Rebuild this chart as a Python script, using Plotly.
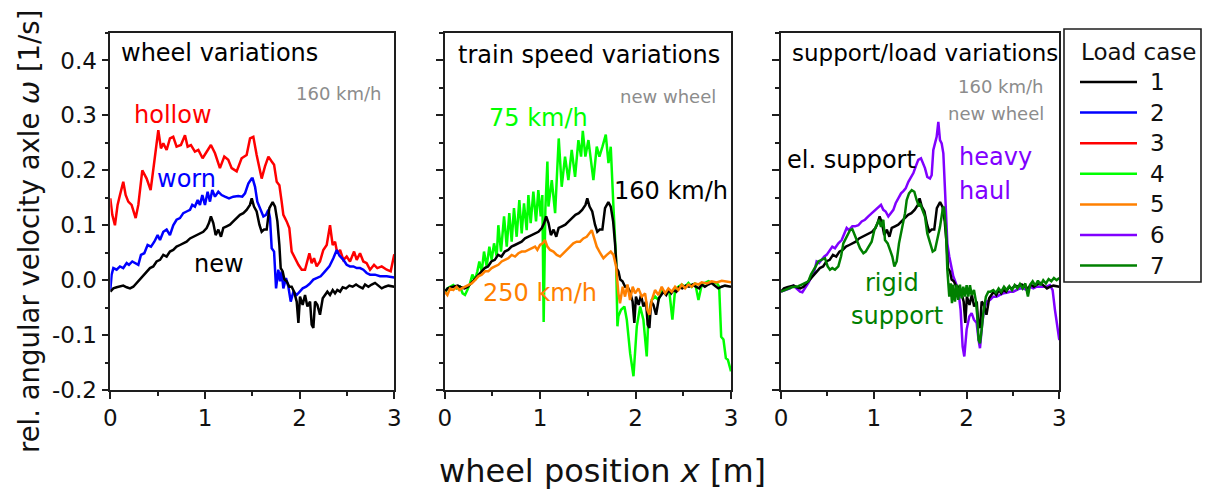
import plotly.graph_objects as go

# ---------------- data: relative angular velocity of the axle [1/s] vs wheel position x [m]
# load case 1: new wheel, 160 km/h, elastic support
case1_x = [0.0, 0.032, 0.067, 0.102, 0.137, 0.173, 0.208, 0.243, 0.278, 0.313, 0.349, 0.384, 0.419, 0.454,
           0.489, 0.525, 0.56, 0.595, 0.63, 0.665, 0.70, 0.736, 0.771, 0.806, 0.842, 0.877, 0.912, 0.947,
           0.982, 1.018, 1.042, 1.063, 1.088, 1.113, 1.141, 1.169, 1.194, 1.229, 1.264, 1.299, 1.335, 1.37,
           1.405, 1.44, 1.475, 1.494, 1.518, 1.546, 1.575, 1.599, 1.624, 1.652, 1.68, 1.715, 1.74, 1.765,
           1.786, 1.80, 1.821, 1.839, 1.863, 1.891, 1.916, 1.941, 1.969, 1.987, 2.004, 2.032, 2.057, 2.082,
           2.11, 2.127, 2.145, 2.163, 2.187, 2.215, 2.244, 2.268, 2.293, 2.321, 2.349, 2.374, 2.398, 2.427,
           2.455, 2.49, 2.525, 2.56, 2.596, 2.631, 2.666, 2.691, 2.726, 2.761, 2.796, 2.832, 2.867, 2.902,
           2.937, 3.0]
case1_y = [-0.021, -0.015, -0.013, -0.012, -0.010, -0.013, -0.015, -0.012, -0.005, 0.001, 0.010, 0.016, 0.022,
           0.025, 0.034, 0.037, 0.046, 0.043, 0.052, 0.055, 0.061, 0.064, 0.067, 0.070, 0.076, 0.079, 0.082,
           0.085, 0.088, 0.095, 0.104, 0.116, 0.104, 0.082, 0.092, 0.079, 0.095, 0.098, 0.101, 0.107, 0.113,
           0.119, 0.122, 0.128, 0.137, 0.149, 0.134, 0.125, 0.101, 0.088, 0.092, 0.092, 0.131, 0.142, 0.134,
           0.107, 0.064, 0.022, 0.016, 0.001, -0.002, -0.012, -0.012, -0.021, -0.039, -0.078, -0.030, -0.045,
           -0.027, -0.048, -0.039, -0.081, -0.087, -0.039, -0.045, -0.063, -0.033, -0.027, -0.021, -0.027,
           -0.018, -0.024, -0.018, -0.021, -0.013, -0.015, -0.010, -0.012, -0.008, -0.012, -0.015, -0.008,
           -0.012, -0.008, -0.005, -0.010, -0.015, -0.012, -0.010, -0.012]

# load case 2: worn wheel
case2_x = [0.0, 0.014, 0.032, 0.067, 0.102, 0.137, 0.173, 0.197, 0.232, 0.268, 0.296, 0.324, 0.359, 0.394,
           0.43, 0.465, 0.50, 0.525, 0.56, 0.595, 0.63, 0.665, 0.70, 0.736, 0.771, 0.806, 0.842, 0.866, 0.894,
           0.923, 0.947, 0.972, 1.0, 1.028, 1.053, 1.077, 1.106, 1.141, 1.176, 1.211, 1.254, 1.299, 1.352,
           1.394, 1.423, 1.458, 1.493, 1.504, 1.529, 1.553, 1.582, 1.617, 1.645, 1.67, 1.687, 1.705, 1.73,
           1.751, 1.775, 1.793, 1.81, 1.828, 1.856, 1.881, 1.906, 1.934, 1.969, 1.997, 2.032, 2.068, 2.103,
           2.145, 2.18, 2.222, 2.268, 2.314, 2.356, 2.392, 2.42, 2.462, 2.497, 2.532, 2.568, 2.603, 2.638,
           2.673, 2.708, 2.744, 2.796, 2.849, 2.92, 3.0]
case2_y = [-0.018, 0.010, 0.022, 0.019, 0.025, 0.022, 0.031, 0.028, 0.034, 0.031, 0.028, 0.046, 0.049, 0.064,
           0.061, 0.070, 0.082, 0.073, 0.088, 0.092, 0.082, 0.100, 0.110, 0.113, 0.122, 0.125, 0.128, 0.137,
           0.134, 0.146, 0.137, 0.155, 0.137, 0.161, 0.143, 0.164, 0.152, 0.161, 0.155, 0.152, 0.149, 0.152,
           0.153, 0.152, 0.158, 0.176, 0.185, 0.185, 0.170, 0.143, 0.131, 0.116, 0.119, 0.128, 0.113, 0.058,
           0.052, -0.015, 0.019, -0.002, 0.016, -0.015, 0.004, -0.012, -0.039, -0.021, -0.027, -0.021, -0.015,
           -0.012, -0.007, 0.001, 0.004, 0.007, 0.016, 0.025, 0.040, 0.055, 0.045, 0.037, 0.028, 0.025, 0.025,
           0.022, 0.022, 0.019, 0.013, 0.010, 0.010, 0.007, 0.007, 0.005]

# load case 3: hollow wheel
case3_x = [0.0, 0.021, 0.049, 0.077, 0.102, 0.137, 0.162, 0.19, 0.225, 0.268, 0.296, 0.338, 0.384, 0.426,
           0.465, 0.507, 0.535, 0.56, 0.595, 0.63, 0.665, 0.70, 0.746, 0.789, 0.817, 0.852, 0.894, 0.93,
           0.975, 1.018, 1.063, 1.106, 1.158, 1.204, 1.246, 1.282, 1.335, 1.387, 1.44, 1.476, 1.511, 1.546,
           1.599, 1.634, 1.67, 1.705, 1.73, 1.758, 1.786, 1.81, 1.828, 1.863, 1.891, 1.916, 1.951, 1.987,
           2.022, 2.057, 2.103, 2.127, 2.152, 2.18, 2.215, 2.25, 2.286, 2.321, 2.349, 2.374, 2.398, 2.427,
           2.462, 2.497, 2.532, 2.575, 2.603, 2.638, 2.673, 2.708, 2.744, 2.786, 2.821, 2.867, 2.92, 2.962, 3.0]
case3_y = [0.149, 0.119, 0.100, 0.137, 0.155, 0.179, 0.155, 0.143, 0.137, 0.113, 0.137, 0.200, 0.185, 0.164,
           0.216, 0.273, 0.240, 0.249, 0.237, 0.258, 0.261, 0.243, 0.246, 0.264, 0.243, 0.246, 0.234, 0.237,
           0.222, 0.234, 0.246, 0.231, 0.204, 0.225, 0.219, 0.204, 0.198, 0.222, 0.228, 0.258, 0.261, 0.228,
           0.185, 0.207, 0.225, 0.216, 0.210, 0.179, 0.173, 0.143, 0.119, 0.107, 0.095, 0.052, 0.040, 0.028,
           0.019, 0.019, 0.049, 0.031, 0.040, 0.025, 0.034, 0.055, 0.064, 0.100, 0.064, 0.070, 0.049, 0.055,
           0.037, 0.043, 0.034, 0.052, 0.037, 0.049, 0.034, 0.031, 0.019, 0.028, 0.022, 0.025, 0.019, 0.016,
           0.047]

# load case 4: 75 km/h
case4_x = [0.0, 0.028, 0.056, 0.09, 0.125, 0.16, 0.188, 0.213, 0.237, 0.265, 0.29, 0.318, 0.342, 0.363, 0.388,
           0.412, 0.44, 0.468, 0.492, 0.517, 0.545, 0.562, 0.59, 0.622, 0.65, 0.677, 0.702, 0.726, 0.754,
           0.782, 0.807, 0.831, 0.859, 0.877, 0.901, 0.929, 0.957, 0.981, 1.006, 1.023, 1.037, 1.055, 1.076,
           1.087, 1.122, 1.157, 1.195, 1.226, 1.261, 1.296, 1.331, 1.366, 1.401, 1.429, 1.447, 1.474, 1.506,
           1.53, 1.558, 1.593, 1.621, 1.653, 1.688, 1.716, 1.74, 1.768, 1.796, 1.81, 1.82, 1.848, 1.883,
           1.908, 1.943, 1.978, 2.013, 2.048, 2.082, 2.117, 2.135, 2.17, 2.205, 2.24, 2.282, 2.317, 2.352,
           2.386, 2.414, 2.449, 2.484, 2.519, 2.554, 2.589, 2.624, 2.659, 2.694, 2.729, 2.764, 2.799, 2.851,
           2.876, 2.897, 2.921, 2.946, 2.967, 2.991, 3.0]
case4_y = [-0.024, -0.015, -0.012, -0.009, -0.015, -0.012, -0.024, -0.027, -0.018, -0.006, 0.010, 0.000, 0.016,
           0.034, 0.016, 0.052, 0.025, 0.061, 0.037, 0.067, 0.043, 0.100, 0.052, 0.116, 0.061, 0.122, 0.070,
           0.131, 0.079, 0.146, 0.085, 0.140, 0.091, 0.155, 0.104, 0.161, 0.107, 0.164, 0.116, 0.155, -0.076,
           0.130, 0.216, 0.134, 0.182, 0.122, 0.258, 0.170, 0.225, 0.182, 0.237, 0.188, 0.255, 0.225, 0.272,
           0.225, 0.255, 0.219, 0.182, 0.243, 0.225, 0.243, 0.265, 0.213, 0.243, 0.134, 0.037, -0.084, -0.066,
           -0.054, -0.048, -0.072, -0.133, -0.175, -0.084, -0.048, -0.072, -0.139, -0.066, -0.036, -0.030,
           -0.036, -0.018, -0.024, -0.018, -0.072, -0.018, -0.012, -0.008, -0.012, -0.005, -0.012, -0.005,
           -0.036, -0.008, -0.005, -0.002, -0.005, -0.005, -0.012, -0.103, -0.108, -0.142, -0.145, -0.163,
           -0.166]

# load case 5: 250 km/h
case5_x = [0.0, 0.028, 0.056, 0.09, 0.125, 0.153, 0.178, 0.213, 0.248, 0.283, 0.318, 0.353, 0.388, 0.423,
           0.457, 0.492, 0.527, 0.562, 0.597, 0.632, 0.667, 0.702, 0.737, 0.772, 0.807, 0.842, 0.877, 0.912,
           0.947, 0.971, 0.999, 1.027, 1.051, 1.076, 1.104, 1.139, 1.174, 1.209, 1.244, 1.278, 1.313, 1.348,
           1.383, 1.418, 1.453, 1.488, 1.541, 1.565, 1.593, 1.63, 1.663, 1.699, 1.74, 1.768, 1.796, 1.82,
           1.837, 1.865, 1.89, 1.915, 1.942, 1.97, 1.995, 2.03, 2.065, 2.1, 2.124, 2.145, 2.17, 2.204, 2.24,
           2.274, 2.31, 2.344, 2.379, 2.414, 2.449, 2.484, 2.519, 2.554, 2.589, 2.623, 2.658, 2.693, 2.746,
           2.798, 2.85, 2.903, 2.956, 3.0]
case5_y = [-0.021, -0.027, -0.015, -0.018, -0.012, -0.018, -0.015, -0.012, -0.009, -0.006, 0.000, 0.007, 0.010,
           0.016, 0.016, 0.022, 0.025, 0.028, 0.034, 0.037, 0.040, 0.046, 0.043, 0.049, 0.052, 0.052, 0.055,
           0.058, 0.061, 0.055, 0.064, 0.067, 0.073, 0.061, 0.055, 0.052, 0.046, 0.043, 0.049, 0.055, 0.061,
           0.067, 0.070, 0.070, 0.076, 0.079, 0.091, 0.079, 0.061, 0.049, 0.040, 0.046, 0.052, 0.046, 0.025,
           -0.024, -0.042, -0.012, -0.030, -0.008, -0.036, -0.012, -0.024, -0.015, -0.030, -0.024, -0.054,
           -0.063, -0.036, -0.018, -0.027, -0.012, -0.024, -0.015, -0.021, -0.012, -0.018, -0.008, -0.015,
           -0.008, -0.012, -0.006, -0.008, -0.004, -0.006, -0.002, -0.004, -0.001, -0.002, -0.004]

# load case 6: heavy haul
case6_x = [0.0, 0.043, 0.097, 0.133, 0.169, 0.205, 0.23, 0.259, 0.295, 0.331, 0.359, 0.384, 0.41, 0.438, 0.467,
           0.492, 0.528, 0.553, 0.582, 0.618, 0.654, 0.683, 0.708, 0.733, 0.769, 0.798, 0.834, 0.87, 0.905,
           0.941, 0.977, 1.013, 1.049, 1.078, 1.103, 1.128, 1.157, 1.186, 1.211, 1.236, 1.265, 1.294, 1.319,
           1.344, 1.373, 1.401, 1.427, 1.452, 1.48, 1.509, 1.552, 1.577, 1.606, 1.624, 1.642, 1.66, 1.678,
           1.696, 1.714, 1.732, 1.75, 1.768, 1.793, 1.814, 1.839, 1.857, 1.886, 1.911, 1.936, 1.958, 1.976,
           2.001, 2.03, 2.055, 2.08, 2.109, 2.13, 2.145, 2.166, 2.188, 2.217, 2.253, 2.289, 2.324, 2.36, 2.396,
           2.432, 2.468, 2.504, 2.54, 2.576, 2.612, 2.648, 2.684, 2.72, 2.756, 2.792, 2.827, 2.863, 2.899,
           2.928, 2.953, 2.978, 3.0]
case6_y = [-0.021, -0.018, -0.015, -0.010, -0.015, -0.021, -0.022, -0.015, -0.005, 0.007, 0.016, 0.034, 0.031,
           0.037, 0.043, 0.046, 0.055, 0.061, 0.058, 0.067, 0.073, 0.085, 0.095, 0.091, 0.098, 0.098, 0.100,
           0.107, 0.110, 0.116, 0.122, 0.128, 0.134, 0.137, 0.128, 0.125, 0.116, 0.122, 0.128, 0.140, 0.149,
           0.158, 0.162, 0.167, 0.179, 0.188, 0.195, 0.207, 0.219, 0.222, 0.204, 0.188, 0.185, 0.191, 0.237,
           0.249, 0.261, 0.288, 0.255, 0.249, 0.231, 0.164, 0.067, 0.043, 0.025, 0.007, -0.006, -0.018, -0.054,
           -0.121, -0.139, -0.090, -0.066, -0.060, -0.072, -0.078, -0.109, -0.124, -0.084, -0.054, -0.039,
           -0.036, -0.030, -0.030, -0.027, -0.024, -0.023, -0.021, -0.021, -0.018, -0.015, -0.015, -0.018,
           -0.012, -0.015, -0.012, -0.012, -0.011, -0.012, -0.009, -0.018, -0.054, -0.084, -0.109]

# load case 7: rigid support
case7_x = [0.0, 0.043, 0.079, 0.115, 0.151, 0.187, 0.223, 0.259, 0.295, 0.323, 0.349, 0.374, 0.402, 0.438,
           0.474, 0.503, 0.528, 0.553, 0.582, 0.618, 0.647, 0.672, 0.697, 0.719, 0.744, 0.769, 0.791, 0.816,
           0.852, 0.888, 0.913, 0.941, 0.977, 1.006, 1.031, 1.056, 1.078, 1.103, 1.121, 1.15, 1.175, 1.2,
           1.222, 1.247, 1.272, 1.301, 1.337, 1.355, 1.38, 1.409, 1.437, 1.462, 1.488, 1.498, 1.527, 1.552,
           1.577, 1.606, 1.635, 1.66, 1.685, 1.714, 1.742, 1.757, 1.778, 1.793, 1.814, 1.829, 1.843, 1.857,
           1.875, 1.893, 1.911, 1.929, 1.947, 1.965, 1.983, 2.001, 2.019, 2.037, 2.055, 2.08, 2.102, 2.116,
           2.13, 2.145, 2.163, 2.181, 2.209, 2.235, 2.26, 2.289, 2.317, 2.346, 2.374, 2.404, 2.432, 2.461,
           2.49, 2.519, 2.548, 2.576, 2.605, 2.634, 2.662, 2.684, 2.713, 2.741, 2.77, 2.799, 2.827, 2.856,
           2.885, 2.914, 2.942, 2.971, 3.0]
case7_y = [-0.021, -0.018, -0.015, -0.013, -0.012, -0.011, -0.008, -0.005, -0.002, 0.010, 0.019, 0.025, 0.034,
           0.037, 0.040, 0.025, 0.019, 0.022, 0.019, 0.025, 0.043, 0.067, 0.076, 0.082, 0.091, 0.093, 0.085,
           0.073, 0.058, 0.049, 0.052, 0.061, 0.070, 0.091, 0.100, 0.110, 0.097, 0.110, 0.073, 0.067, 0.055,
           0.043, 0.025, 0.034, 0.067, 0.091, 0.122, 0.146, 0.158, 0.164, 0.161, 0.146, 0.134, 0.140, 0.128,
           0.116, 0.085, 0.067, 0.052, 0.055, 0.073, 0.097, 0.128, 0.134, 0.091, 0.019, -0.030, -0.006,
           -0.042, -0.008, -0.039, -0.008, -0.036, -0.008, -0.033, -0.012, -0.030, -0.009, -0.030, -0.009,
           -0.027, -0.018, -0.039, -0.066, -0.109, -0.115, -0.090, -0.060, -0.030, -0.021, -0.021, -0.018,
           -0.023, -0.015, -0.021, -0.012, -0.018, -0.011, -0.018, -0.009, -0.015, -0.007, -0.015, -0.006,
           -0.030, -0.009, -0.002, -0.010, -0.001, -0.009, 0.000, -0.006, 0.002, -0.002, 0.004, 0.000, 0.004]

load_cases = [1, 2, 3, 4, 5, 6, 7]
case_colors = ["#000000", "#0000ff", "#ff0000", "#00ff00", "#ff8000", "#8000ff", "#008000"]
series = {
    1: (case1_x, case1_y),
    2: (case2_x, case2_y),
    3: (case3_x, case3_y),
    4: (case4_x, case4_y),
    5: (case5_x, case5_y),
    6: (case6_x, case6_y),
    7: (case7_x, case7_y),
}
color_of = dict(zip(load_cases, case_colors))

# which load cases appear in which panel (drawing order, last on top)
panel_cases = [[3, 2, 1], [4, 1, 5], [6, 1, 7]]

# axis ticks
y_tickvals = [-0.2, -0.1, 0.0, 0.1, 0.2, 0.3, 0.4]
y_ticktext = ["-0.2", "-0.1", "0.0", "0.1", "0.2", "0.3", "0.4"]
y_minorvals = [-0.15, -0.05, 0.05, 0.15, 0.25, 0.35, 0.45]
x_tickvals = [0, 1, 2, 3]
x_ticktext = ["0", "1", "2", "3"]
x_minorvals = [0.5, 1.5, 2.5]

FONT = "DejaVu Sans"
W, H = 1205, 495
TXT = "#111111"
AX = "#1e1e1e"

fig = go.Figure()
for p, cases in enumerate(panel_cases):
    suffix = "" if p == 0 else str(p + 1)
    for c in cases:
        xs, ys = series[c]
        assert len(xs) == len(ys), c
        fig.add_trace(go.Scatter(
            x=xs, y=ys, mode="lines", name=str(c),
            line=dict(color=color_of[c], width=2.5),
            xaxis="x" + suffix, yaxis="y" + suffix,
            showlegend=False, hoverinfo="skip",
        ))

x_domains = [(110.3 / W, 394.3 / W), (444.7 / W, 731.0 / W), (781.0 / W, 1059.3 / W)]
y_domain = [1 - 390.0 / H, 1 - 33.0 / H]

layout = dict(
    width=W, height=H,
    margin=dict(l=0, r=0, t=0, b=0, pad=0),
    paper_bgcolor="white", plot_bgcolor="white",
    font=dict(family=FONT, color=TXT),
    showlegend=False,
)

for p in range(3):
    suffix = "" if p == 0 else str(p + 1)
    layout["xaxis" + suffix] = dict(
        domain=list(x_domains[p]), range=[0, 3], anchor="y" + suffix,
        showline=True, linecolor=AX, linewidth=1.6, mirror=True,
        ticks="outside", ticklen=7, tickwidth=1.6, tickcolor=AX,
        tickmode="array", tickvals=x_tickvals, ticktext=x_ticktext,
        minor=dict(tickmode="array", tickvals=x_minorvals, ticks="outside",
                   ticklen=4, tickwidth=1.6, tickcolor=AX, showgrid=False),
        showgrid=False, zeroline=False, automargin=False,
        tickfont=dict(family=FONT, size=23, color=TXT),
    )
    layout["yaxis" + suffix] = dict(
        domain=y_domain, range=[-0.2, 0.45], anchor="x" + suffix,
        showline=True, linecolor=AX, linewidth=1.6, mirror=True,
        ticks="outside", ticklen=7, tickwidth=1.6, tickcolor=AX,
        tickmode="array", tickvals=y_tickvals, ticktext=y_ticktext,
        minor=dict(tickmode="array", tickvals=y_minorvals, ticks="outside",
                   ticklen=4, tickwidth=1.6, tickcolor=AX, showgrid=False),
        showticklabels=(p == 0),
        showgrid=False, zeroline=False, automargin=False,
        tickfont=dict(family=FONT, size=23, color=TXT),
    )

fig.update_layout(**layout)

GRAY = "#8c8c8c"
# (panel, text, x, y, xanchor, size, color)
labels = [
    (1, "wheel variations", 0.09, 0.413, "left", 24, "#000000"),
    (1, "160 km/h", 2.89, 0.340, "right", 18, GRAY),
    (1, "hollow", 0.657, 0.300, "center", 24, "#ff0000"),
    (1, "worn", 0.80, 0.1835, "center", 24, "#0000ff"),
    (1, "new", 1.148, 0.029, "center", 24, "#000000"),
    (2, "train speed variations", 0.118, 0.410, "left", 24, "#000000"),
    (2, "new wheel", 2.865, 0.334, "right", 18, GRAY),
    (2, "75 km/h", 0.988, 0.295, "center", 24, "#00ff00"),
    (2, "160 km/h", 2.372, 0.163, "center", 24, "#000000"),
    (2, "250 km/h", 0.996, -0.023, "center", 24, "#ff8000"),
    (3, "support/load variations", 0.097, 0.413, "left", 23, "#000000"),
    (3, "160 km/h", 2.856, 0.352, "right", 18, GRAY),
    (3, "new wheel", 2.86, 0.303, "right", 18, GRAY),
    (3, "el. support", 0.043, 0.219, "left", 24, "#000000"),
    (3, "heavy", 1.90, 0.225, "left", 24, "#8000ff"),
    (3, "haul", 1.90, 0.1616, "left", 24, "#8000ff"),
    (3, "rigid", 1.197, -0.005, "center", 24, "#008000"),
    (3, "support", 1.25, -0.066, "center", 24, "#008000"),
]
for p, txt, x, y, xa, size, col in labels:
    suffix = "" if p == 1 else str(p)
    fig.add_annotation(
        x=x, y=y, xref="x" + suffix, yref="y" + suffix, text=txt, showarrow=False,
        xanchor=xa, yanchor="middle", font=dict(family=FONT, size=size, color=col),
    )

# shared axis titles
fig.add_annotation(
    x=29 / W, y=1 - 232 / H, xref="paper", yref="paper", showarrow=False,
    text="rel. angular velocity axle <i>ω</i> [1/s]", textangle=-90,
    xanchor="center", yanchor="middle", font=dict(family=FONT, size=27.5, color=TXT),
)
fig.add_annotation(
    x=602 / W, y=1 - 471 / H, xref="paper", yref="paper", showarrow=False,
    text="wheel position <i>x</i> [m]",
    xanchor="center", yanchor="middle", font=dict(family=FONT, size=32, color=TXT),
)

# legend box: "Load case" with one line sample per case
LEG_L, LEG_R, LEG_T, LEG_B = 1064, 1201, 29, 282
fig.add_shape(type="rect", xref="paper", yref="paper",
              x0=LEG_L / W, x1=LEG_R / W, y0=1 - LEG_B / H, y1=1 - LEG_T / H,
              line=dict(color=AX, width=1.6), fillcolor="white", layer="above")
fig.add_annotation(x=1138 / W, y=1 - 52 / H, xref="paper", yref="paper", showarrow=False,
                   text="Load case", xanchor="center", yanchor="middle",
                   font=dict(family=FONT, size=23, color=TXT))
for i, (c, col) in enumerate(zip(load_cases, case_colors)):
    py = 82 + i * 30.6
    fig.add_shape(type="line", xref="paper", yref="paper",
                  x0=1080 / W, x1=1137 / W, y0=1 - py / H, y1=1 - py / H,
                  line=dict(color=col, width=2.5), layer="above")
    fig.add_annotation(x=1148 / W, y=1 - py / H, xref="paper", yref="paper", showarrow=False,
                       text=str(c), xanchor="left", yanchor="middle",
                       font=dict(family=FONT, size=23, color=TXT))

fig.write_html("out.html")
